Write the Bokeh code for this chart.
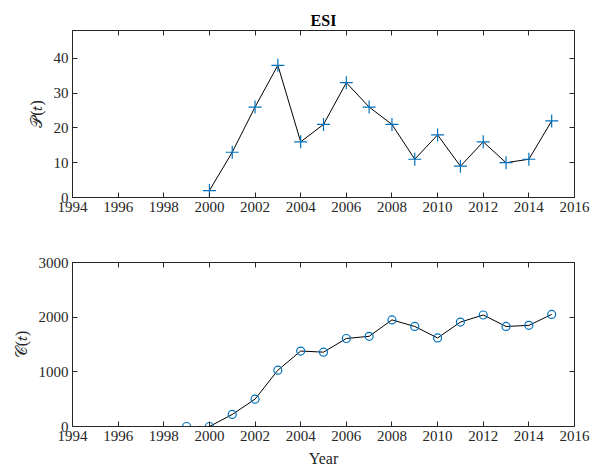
from bokeh.plotting import figure
from bokeh.models import LinearAxis, FixedTicker, Range1d
from bokeh.layouts import column
from bokeh.embed import file_html
from bokeh.resources import INLINE

# Data
p_years = [2000, 2001, 2002, 2003, 2004, 2005, 2006, 2007, 2008, 2009, 2010, 2011, 2012, 2013, 2014, 2015]
p_values = [2, 13, 26, 38, 16, 21, 33, 26, 21, 11, 18, 9, 16, 10, 11, 22]

c_line_years = [1994, 1995, 1996, 1997, 1998, 1999, 2000, 2001, 2002, 2003, 2004, 2005, 2006, 2007, 2008,
                2009, 2010, 2011, 2012, 2013, 2014, 2015]
c_line_values = [0, 0, 0, 0, 0, 0, 0, 220, 500, 1030, 1380, 1360, 1610, 1650, 1950,
                 1830, 1620, 1910, 2040, 1830, 1850, 2050]
c_marker_start = 1999

x_ticks = [1994, 1996, 1998, 2000, 2002, 2004, 2006, 2008, 2010, 2012, 2014, 2016]
p_ticks = [0, 10, 20, 30, 40]
c_ticks = [0, 1000, 2000, 3000]

FONT = "Liberation Serif"
AX = "#262626"
BLUE = "#0072BD"


def style_axis(ax, ticks, labels=True):
    ax.ticker = FixedTicker(ticks=ticks)
    ax.axis_line_color = AX
    ax.axis_line_width = 1
    ax.major_tick_line_color = AX
    ax.major_tick_in = 5
    ax.major_tick_out = 0
    ax.minor_tick_line_color = None
    ax.major_label_text_font = FONT
    ax.major_label_text_color = AX
    ax.axis_label_text_font = FONT
    ax.axis_label_text_color = AX
    ax.axis_label_text_font_style = "normal"
    ax.axis_label_text_font_size = "16px"
    ax.major_label_text_font_size = "15px"
    if labels:
        ax.major_label_standoff = 4
        ax.axis_label_standoff = 6
    else:
        ax.major_label_text_color = None
        ax.major_label_standoff = 0
        ax.axis_label = None


def make_fig(height, ylim, yticks, ylabel, top, bottom, xlabel=None, title=None):
    f = figure(width=604, height=height, output_backend="svg", toolbar_location=None,
               x_range=Range1d(1994, 2016), y_range=Range1d(*ylim),
               x_axis_location=None, y_axis_location=None,
               min_border_left=72, min_border_right=30, min_border_top=top, min_border_bottom=bottom,
               title=title)
    f.grid.visible = False
    f.outline_line_color = None
    f.background_fill_color = "white"
    f.border_fill_color = "white"
    xb = LinearAxis(axis_label=xlabel)
    style_axis(xb, x_ticks)
    f.add_layout(xb, "below")
    yl = LinearAxis(axis_label=ylabel)
    style_axis(yl, yticks)
    f.add_layout(yl, "left")
    xt = LinearAxis()
    style_axis(xt, x_ticks, labels=False)
    f.add_layout(xt, "above")
    yr = LinearAxis()
    style_axis(yr, yticks, labels=False)
    f.add_layout(yr, "right")
    if title is not None:
        f.title.text_font = FONT
        f.title.text_font_size = "16px"
        f.title.text_font_style = "bold"
        f.title.align = "center"
        f.title.text_color = "black"
        f.title.standoff = 4
    return f


p1 = make_fig(232, (0, 48), p_ticks, "𝒫(𝑡)", top=30, bottom=35, title="ESI")
p1.line(p_years, p_values, line_color="black", line_width=1)
p1.scatter(p_years, p_values, marker="cross", size=13, line_color=BLUE, line_width=1.2)

p2 = make_fig(237, (0, 3000), c_ticks, "𝒞(𝑡)", top=30, bottom=42, xlabel="Year")
p2.line(c_line_years, c_line_values, line_color="black", line_width=1)
cm_x = [y for y in c_line_years if y >= c_marker_start]
cm_y = [v for y, v in zip(c_line_years, c_line_values) if y >= c_marker_start]
p2.scatter(cm_x, cm_y, marker="circle", size=8, fill_color=None, line_color=BLUE, line_width=1.2)

layout = column(p1, p2, spacing=0)
open("out.html", "w").write(file_html(layout, INLINE))
